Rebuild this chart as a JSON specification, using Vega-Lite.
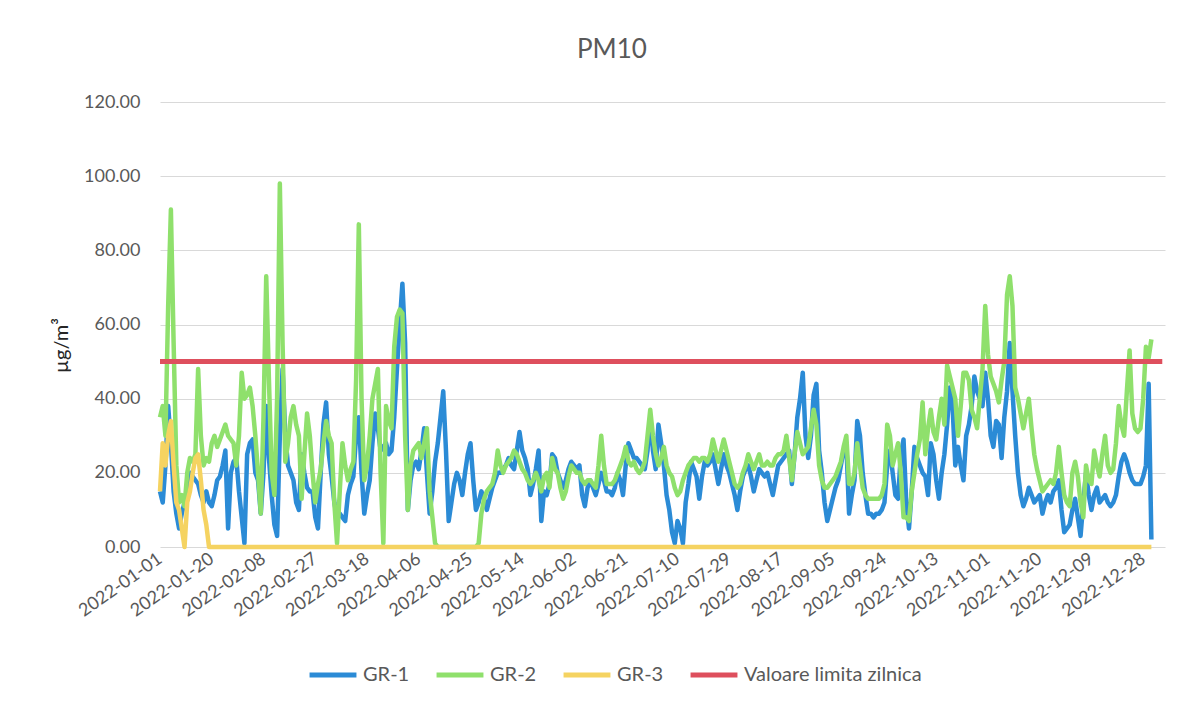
{
"$schema":"https://vega.github.io/schema/vega-lite/v6.json",
"width":1005,"height":445,
"autosize":{"type":"none"},
"padding":{"left":160,"top":102,"right":24,"bottom":156},
"background":"white",
"title":{"text":"PM10","fontSize":26,"font":"Lato","fontWeight":"normal","color":"#595959","anchor":"middle","frame":"bounds","offset":30},
"config":{"view":{"stroke":null},"font":"Lato"},
"datasets":{
"lim":[{"d":"2022-01-01","s":"Valoare limita zilnica","v":50},{"d":"2023-01-04","s":"Valoare limita zilnica","v":50}],
"pm":[
{"d":"2022-01-01","GR-1":15,"GR-2":35,"GR-3":15},
{"d":"2022-01-02","GR-1":12,"GR-2":38,"GR-3":28},
{"d":"2022-01-03","GR-1":22,"GR-2":30,"GR-3":22},
{"d":"2022-01-04","GR-1":38,"GR-2":65,"GR-3":30},
{"d":"2022-01-05","GR-1":28,"GR-2":91,"GR-3":34},
{"d":"2022-01-06","GR-1":15,"GR-2":55,"GR-3":22},
{"d":"2022-01-07","GR-1":9,"GR-2":22,"GR-3":12},
{"d":"2022-01-08","GR-1":5,"GR-2":12,"GR-3":10},
{"d":"2022-01-09","GR-1":9,"GR-2":14,"GR-3":5},
{"d":"2022-01-10","GR-1":12,"GR-2":11,"GR-3":0},
{"d":"2022-01-11","GR-1":16,"GR-2":20,"GR-3":12},
{"d":"2022-01-12","GR-1":20,"GR-2":24,"GR-3":15},
{"d":"2022-01-13","GR-1":19,"GR-2":23,"GR-3":20},
{"d":"2022-01-14","GR-1":18,"GR-2":25,"GR-3":24},
{"d":"2022-01-15","GR-1":17,"GR-2":48,"GR-3":25},
{"d":"2022-01-16","GR-1":14,"GR-2":30,"GR-3":18},
{"d":"2022-01-17","GR-1":12,"GR-2":22,"GR-3":10},
{"d":"2022-01-18","GR-1":15,"GR-2":24,"GR-3":6},
{"d":"2022-01-19","GR-1":12,"GR-2":23,"GR-3":0},
{"d":"2022-01-20","GR-1":11,"GR-2":28,"GR-3":0},
{"d":"2022-01-21","GR-1":14,"GR-2":30,"GR-3":0},
{"d":"2022-01-22","GR-1":18,"GR-2":27,"GR-3":0},
{"d":"2022-01-23","GR-1":19,"GR-2":29,"GR-3":0},
{"d":"2022-01-24","GR-1":22,"GR-2":31,"GR-3":0},
{"d":"2022-01-25","GR-1":26,"GR-2":33,"GR-3":0},
{"d":"2022-01-26","GR-1":5,"GR-2":30,"GR-3":0},
{"d":"2022-01-27","GR-1":20,"GR-2":29,"GR-3":0},
{"d":"2022-01-28","GR-1":23,"GR-2":28,"GR-3":0},
{"d":"2022-01-29","GR-1":24,"GR-2":22,"GR-3":0},
{"d":"2022-01-30","GR-1":15,"GR-2":30,"GR-3":0},
{"d":"2022-01-31","GR-1":8,"GR-2":47,"GR-3":0},
{"d":"2022-02-01","GR-1":1,"GR-2":40,"GR-3":0},
{"d":"2022-02-02","GR-1":25,"GR-2":41,"GR-3":0},
{"d":"2022-02-03","GR-1":28,"GR-2":43,"GR-3":0},
{"d":"2022-02-04","GR-1":29,"GR-2":38,"GR-3":0},
{"d":"2022-02-05","GR-1":20,"GR-2":30,"GR-3":0},
{"d":"2022-02-06","GR-1":18,"GR-2":20,"GR-3":0},
{"d":"2022-02-07","GR-1":9,"GR-2":9,"GR-3":0},
{"d":"2022-02-08","GR-1":20,"GR-2":35,"GR-3":0},
{"d":"2022-02-09","GR-1":38,"GR-2":73,"GR-3":0},
{"d":"2022-02-10","GR-1":24,"GR-2":45,"GR-3":0},
{"d":"2022-02-11","GR-1":14,"GR-2":20,"GR-3":0},
{"d":"2022-02-12","GR-1":6,"GR-2":14,"GR-3":0},
{"d":"2022-02-13","GR-1":3,"GR-2":40,"GR-3":0},
{"d":"2022-02-14","GR-1":30,"GR-2":98,"GR-3":0},
{"d":"2022-02-15","GR-1":48,"GR-2":55,"GR-3":0},
{"d":"2022-02-16","GR-1":30,"GR-2":23,"GR-3":0},
{"d":"2022-02-17","GR-1":22,"GR-2":28,"GR-3":0},
{"d":"2022-02-18","GR-1":20,"GR-2":35,"GR-3":0},
{"d":"2022-02-19","GR-1":18,"GR-2":38,"GR-3":0},
{"d":"2022-02-20","GR-1":12,"GR-2":33,"GR-3":0},
{"d":"2022-02-21","GR-1":10,"GR-2":30,"GR-3":0},
{"d":"2022-02-22","GR-1":25,"GR-2":13,"GR-3":0},
{"d":"2022-02-23","GR-1":20,"GR-2":25,"GR-3":0},
{"d":"2022-02-24","GR-1":16,"GR-2":36,"GR-3":0},
{"d":"2022-02-25","GR-1":15,"GR-2":30,"GR-3":0},
{"d":"2022-02-26","GR-1":15,"GR-2":20,"GR-3":0},
{"d":"2022-02-27","GR-1":8,"GR-2":12,"GR-3":0},
{"d":"2022-02-28","GR-1":5,"GR-2":17,"GR-3":0},
{"d":"2022-03-01","GR-1":20,"GR-2":21,"GR-3":0},
{"d":"2022-03-02","GR-1":33,"GR-2":28,"GR-3":0},
{"d":"2022-03-03","GR-1":39,"GR-2":34,"GR-3":0},
{"d":"2022-03-04","GR-1":25,"GR-2":30,"GR-3":0},
{"d":"2022-03-05","GR-1":19,"GR-2":28,"GR-3":0},
{"d":"2022-03-06","GR-1":12,"GR-2":12,"GR-3":0},
{"d":"2022-03-07","GR-1":8,"GR-2":1,"GR-3":0},
{"d":"2022-03-08","GR-1":9,"GR-2":15,"GR-3":0},
{"d":"2022-03-09","GR-1":8,"GR-2":28,"GR-3":0},
{"d":"2022-03-10","GR-1":7,"GR-2":22,"GR-3":0},
{"d":"2022-03-11","GR-1":14,"GR-2":18,"GR-3":0},
{"d":"2022-03-12","GR-1":17,"GR-2":21,"GR-3":0},
{"d":"2022-03-13","GR-1":19,"GR-2":23,"GR-3":0},
{"d":"2022-03-14","GR-1":30,"GR-2":45,"GR-3":0},
{"d":"2022-03-15","GR-1":35,"GR-2":87,"GR-3":0},
{"d":"2022-03-16","GR-1":20,"GR-2":40,"GR-3":0},
{"d":"2022-03-17","GR-1":9,"GR-2":18,"GR-3":0},
{"d":"2022-03-18","GR-1":14,"GR-2":22,"GR-3":0},
{"d":"2022-03-19","GR-1":18,"GR-2":30,"GR-3":0},
{"d":"2022-03-20","GR-1":28,"GR-2":40,"GR-3":0},
{"d":"2022-03-21","GR-1":36,"GR-2":44,"GR-3":0},
{"d":"2022-03-22","GR-1":32,"GR-2":48,"GR-3":0},
{"d":"2022-03-23","GR-1":26,"GR-2":20,"GR-3":0},
{"d":"2022-03-24","GR-1":27,"GR-2":1,"GR-3":0},
{"d":"2022-03-25","GR-1":28,"GR-2":38,"GR-3":0},
{"d":"2022-03-26","GR-1":25,"GR-2":34,"GR-3":0},
{"d":"2022-03-27","GR-1":26,"GR-2":32,"GR-3":0},
{"d":"2022-03-28","GR-1":35,"GR-2":54,"GR-3":0},
{"d":"2022-03-29","GR-1":48,"GR-2":62,"GR-3":0},
{"d":"2022-03-30","GR-1":60,"GR-2":64,"GR-3":0},
{"d":"2022-03-31","GR-1":71,"GR-2":63,"GR-3":0},
{"d":"2022-04-01","GR-1":55,"GR-2":30,"GR-3":0},
{"d":"2022-04-02","GR-1":10,"GR-2":10,"GR-3":0},
{"d":"2022-04-03","GR-1":18,"GR-2":22,"GR-3":0},
{"d":"2022-04-04","GR-1":22,"GR-2":26,"GR-3":0},
{"d":"2022-04-05","GR-1":23,"GR-2":27,"GR-3":0},
{"d":"2022-04-06","GR-1":21,"GR-2":28,"GR-3":0},
{"d":"2022-04-07","GR-1":26,"GR-2":24,"GR-3":0},
{"d":"2022-04-08","GR-1":32,"GR-2":28,"GR-3":0},
{"d":"2022-04-09","GR-1":20,"GR-2":32,"GR-3":0},
{"d":"2022-04-10","GR-1":9,"GR-2":15,"GR-3":0},
{"d":"2022-04-11","GR-1":15,"GR-2":8,"GR-3":0},
{"d":"2022-04-12","GR-1":23,"GR-2":1,"GR-3":0},
{"d":"2022-04-13","GR-1":28,"GR-2":0,"GR-3":0},
{"d":"2022-04-14","GR-1":35,"GR-2":0,"GR-3":0},
{"d":"2022-04-15","GR-1":42,"GR-2":0,"GR-3":0},
{"d":"2022-04-16","GR-1":26,"GR-2":0,"GR-3":0},
{"d":"2022-04-17","GR-1":7,"GR-2":0,"GR-3":0},
{"d":"2022-04-18","GR-1":12,"GR-2":0,"GR-3":0},
{"d":"2022-04-19","GR-1":17,"GR-2":0,"GR-3":0},
{"d":"2022-04-20","GR-1":20,"GR-2":0,"GR-3":0},
{"d":"2022-04-21","GR-1":18,"GR-2":0,"GR-3":0},
{"d":"2022-04-22","GR-1":14,"GR-2":0,"GR-3":0},
{"d":"2022-04-23","GR-1":20,"GR-2":0,"GR-3":0},
{"d":"2022-04-24","GR-1":25,"GR-2":0,"GR-3":0},
{"d":"2022-04-25","GR-1":28,"GR-2":0,"GR-3":0},
{"d":"2022-04-26","GR-1":18,"GR-2":0,"GR-3":0},
{"d":"2022-04-27","GR-1":10,"GR-2":0,"GR-3":0},
{"d":"2022-04-28","GR-1":12,"GR-2":1,"GR-3":0},
{"d":"2022-04-29","GR-1":15,"GR-2":9,"GR-3":0},
{"d":"2022-04-30","GR-1":13,"GR-2":13,"GR-3":0},
{"d":"2022-05-01","GR-1":10,"GR-2":15,"GR-3":0},
{"d":"2022-05-02","GR-1":13,"GR-2":16,"GR-3":0},
{"d":"2022-05-03","GR-1":16,"GR-2":17,"GR-3":0},
{"d":"2022-05-04","GR-1":18,"GR-2":20,"GR-3":0},
{"d":"2022-05-05","GR-1":20,"GR-2":26,"GR-3":0},
{"d":"2022-05-06","GR-1":20,"GR-2":22,"GR-3":0},
{"d":"2022-05-07","GR-1":21,"GR-2":20,"GR-3":0},
{"d":"2022-05-08","GR-1":22,"GR-2":22,"GR-3":0},
{"d":"2022-05-09","GR-1":24,"GR-2":23,"GR-3":0},
{"d":"2022-05-10","GR-1":22,"GR-2":24,"GR-3":0},
{"d":"2022-05-11","GR-1":21,"GR-2":26,"GR-3":0},
{"d":"2022-05-12","GR-1":26,"GR-2":25,"GR-3":0},
{"d":"2022-05-13","GR-1":31,"GR-2":23,"GR-3":0},
{"d":"2022-05-14","GR-1":26,"GR-2":21,"GR-3":0},
{"d":"2022-05-15","GR-1":24,"GR-2":20,"GR-3":0},
{"d":"2022-05-16","GR-1":21,"GR-2":18,"GR-3":0},
{"d":"2022-05-17","GR-1":14,"GR-2":17,"GR-3":0},
{"d":"2022-05-18","GR-1":17,"GR-2":18,"GR-3":0},
{"d":"2022-05-19","GR-1":21,"GR-2":20,"GR-3":0},
{"d":"2022-05-20","GR-1":26,"GR-2":18,"GR-3":0},
{"d":"2022-05-21","GR-1":7,"GR-2":15,"GR-3":0},
{"d":"2022-05-22","GR-1":15,"GR-2":19,"GR-3":0},
{"d":"2022-05-23","GR-1":14,"GR-2":20,"GR-3":0},
{"d":"2022-05-24","GR-1":17,"GR-2":16,"GR-3":0},
{"d":"2022-05-25","GR-1":25,"GR-2":24,"GR-3":0},
{"d":"2022-05-26","GR-1":24,"GR-2":21,"GR-3":0},
{"d":"2022-05-27","GR-1":20,"GR-2":20,"GR-3":0},
{"d":"2022-05-28","GR-1":18,"GR-2":16,"GR-3":0},
{"d":"2022-05-29","GR-1":16,"GR-2":13,"GR-3":0},
{"d":"2022-05-30","GR-1":18,"GR-2":15,"GR-3":0},
{"d":"2022-05-31","GR-1":21,"GR-2":19,"GR-3":0},
{"d":"2022-06-01","GR-1":23,"GR-2":22,"GR-3":0},
{"d":"2022-06-02","GR-1":22,"GR-2":21,"GR-3":0},
{"d":"2022-06-03","GR-1":21,"GR-2":20,"GR-3":0},
{"d":"2022-06-04","GR-1":22,"GR-2":20,"GR-3":0},
{"d":"2022-06-05","GR-1":14,"GR-2":18,"GR-3":0},
{"d":"2022-06-06","GR-1":11,"GR-2":17,"GR-3":0},
{"d":"2022-06-07","GR-1":16,"GR-2":18,"GR-3":0},
{"d":"2022-06-08","GR-1":18,"GR-2":18,"GR-3":0},
{"d":"2022-06-09","GR-1":16,"GR-2":17,"GR-3":0},
{"d":"2022-06-10","GR-1":14,"GR-2":16,"GR-3":0},
{"d":"2022-06-11","GR-1":17,"GR-2":22,"GR-3":0},
{"d":"2022-06-12","GR-1":20,"GR-2":30,"GR-3":0},
{"d":"2022-06-13","GR-1":18,"GR-2":22,"GR-3":0},
{"d":"2022-06-14","GR-1":15,"GR-2":17,"GR-3":0},
{"d":"2022-06-15","GR-1":15,"GR-2":17,"GR-3":0},
{"d":"2022-06-16","GR-1":14,"GR-2":17,"GR-3":0},
{"d":"2022-06-17","GR-1":16,"GR-2":18,"GR-3":0},
{"d":"2022-06-18","GR-1":20,"GR-2":20,"GR-3":0},
{"d":"2022-06-19","GR-1":18,"GR-2":22,"GR-3":0},
{"d":"2022-06-20","GR-1":14,"GR-2":24,"GR-3":0},
{"d":"2022-06-21","GR-1":22,"GR-2":27,"GR-3":0},
{"d":"2022-06-22","GR-1":28,"GR-2":23,"GR-3":0},
{"d":"2022-06-23","GR-1":26,"GR-2":22,"GR-3":0},
{"d":"2022-06-24","GR-1":24,"GR-2":23,"GR-3":0},
{"d":"2022-06-25","GR-1":24,"GR-2":21,"GR-3":0},
{"d":"2022-06-26","GR-1":23,"GR-2":20,"GR-3":0},
{"d":"2022-06-27","GR-1":22,"GR-2":21,"GR-3":0},
{"d":"2022-06-28","GR-1":21,"GR-2":23,"GR-3":0},
{"d":"2022-06-29","GR-1":26,"GR-2":30,"GR-3":0},
{"d":"2022-06-30","GR-1":35,"GR-2":37,"GR-3":0},
{"d":"2022-07-01","GR-1":26,"GR-2":30,"GR-3":0},
{"d":"2022-07-02","GR-1":21,"GR-2":25,"GR-3":0},
{"d":"2022-07-03","GR-1":33,"GR-2":22,"GR-3":0},
{"d":"2022-07-04","GR-1":28,"GR-2":24,"GR-3":0},
{"d":"2022-07-05","GR-1":22,"GR-2":27,"GR-3":0},
{"d":"2022-07-06","GR-1":14,"GR-2":22,"GR-3":0},
{"d":"2022-07-07","GR-1":10,"GR-2":20,"GR-3":0},
{"d":"2022-07-08","GR-1":4,"GR-2":19,"GR-3":0},
{"d":"2022-07-09","GR-1":1,"GR-2":16,"GR-3":0},
{"d":"2022-07-10","GR-1":7,"GR-2":14,"GR-3":0},
{"d":"2022-07-11","GR-1":5,"GR-2":15,"GR-3":0},
{"d":"2022-07-12","GR-1":1,"GR-2":18,"GR-3":0},
{"d":"2022-07-13","GR-1":12,"GR-2":20,"GR-3":0},
{"d":"2022-07-14","GR-1":17,"GR-2":22,"GR-3":0},
{"d":"2022-07-15","GR-1":23,"GR-2":23,"GR-3":0},
{"d":"2022-07-16","GR-1":21,"GR-2":24,"GR-3":0},
{"d":"2022-07-17","GR-1":19,"GR-2":24,"GR-3":0},
{"d":"2022-07-18","GR-1":13,"GR-2":23,"GR-3":0},
{"d":"2022-07-19","GR-1":19,"GR-2":24,"GR-3":0},
{"d":"2022-07-20","GR-1":23,"GR-2":24,"GR-3":0},
{"d":"2022-07-21","GR-1":22,"GR-2":23,"GR-3":0},
{"d":"2022-07-22","GR-1":23,"GR-2":25,"GR-3":0},
{"d":"2022-07-23","GR-1":25,"GR-2":29,"GR-3":0},
{"d":"2022-07-24","GR-1":21,"GR-2":26,"GR-3":0},
{"d":"2022-07-25","GR-1":17,"GR-2":23,"GR-3":0},
{"d":"2022-07-26","GR-1":21,"GR-2":26,"GR-3":0},
{"d":"2022-07-27","GR-1":25,"GR-2":29,"GR-3":0},
{"d":"2022-07-28","GR-1":22,"GR-2":26,"GR-3":0},
{"d":"2022-07-29","GR-1":20,"GR-2":23,"GR-3":0},
{"d":"2022-07-30","GR-1":17,"GR-2":20,"GR-3":0},
{"d":"2022-07-31","GR-1":14,"GR-2":17,"GR-3":0},
{"d":"2022-08-01","GR-1":10,"GR-2":16,"GR-3":0},
{"d":"2022-08-02","GR-1":15,"GR-2":17,"GR-3":0},
{"d":"2022-08-03","GR-1":19,"GR-2":20,"GR-3":0},
{"d":"2022-08-04","GR-1":21,"GR-2":22,"GR-3":0},
{"d":"2022-08-05","GR-1":22,"GR-2":25,"GR-3":0},
{"d":"2022-08-06","GR-1":19,"GR-2":23,"GR-3":0},
{"d":"2022-08-07","GR-1":15,"GR-2":21,"GR-3":0},
{"d":"2022-08-08","GR-1":18,"GR-2":23,"GR-3":0},
{"d":"2022-08-09","GR-1":21,"GR-2":25,"GR-3":0},
{"d":"2022-08-10","GR-1":20,"GR-2":22,"GR-3":0},
{"d":"2022-08-11","GR-1":19,"GR-2":22,"GR-3":0},
{"d":"2022-08-12","GR-1":20,"GR-2":23,"GR-3":0},
{"d":"2022-08-13","GR-1":17,"GR-2":22,"GR-3":0},
{"d":"2022-08-14","GR-1":14,"GR-2":22,"GR-3":0},
{"d":"2022-08-15","GR-1":18,"GR-2":24,"GR-3":0},
{"d":"2022-08-16","GR-1":22,"GR-2":25,"GR-3":0},
{"d":"2022-08-17","GR-1":23,"GR-2":25,"GR-3":0},
{"d":"2022-08-18","GR-1":24,"GR-2":26,"GR-3":0},
{"d":"2022-08-19","GR-1":25,"GR-2":30,"GR-3":0},
{"d":"2022-08-20","GR-1":26,"GR-2":24,"GR-3":0},
{"d":"2022-08-21","GR-1":17,"GR-2":18,"GR-3":0},
{"d":"2022-08-22","GR-1":25,"GR-2":25,"GR-3":0},
{"d":"2022-08-23","GR-1":35,"GR-2":31,"GR-3":0},
{"d":"2022-08-24","GR-1":40,"GR-2":28,"GR-3":0},
{"d":"2022-08-25","GR-1":47,"GR-2":25,"GR-3":0},
{"d":"2022-08-26","GR-1":30,"GR-2":26,"GR-3":0},
{"d":"2022-08-27","GR-1":24,"GR-2":27,"GR-3":0},
{"d":"2022-08-28","GR-1":30,"GR-2":32,"GR-3":0},
{"d":"2022-08-29","GR-1":41,"GR-2":37,"GR-3":0},
{"d":"2022-08-30","GR-1":44,"GR-2":33,"GR-3":0},
{"d":"2022-08-31","GR-1":26,"GR-2":22,"GR-3":0},
{"d":"2022-09-01","GR-1":20,"GR-2":18,"GR-3":0},
{"d":"2022-09-02","GR-1":12,"GR-2":16,"GR-3":0},
{"d":"2022-09-03","GR-1":7,"GR-2":16,"GR-3":0},
{"d":"2022-09-04","GR-1":10,"GR-2":17,"GR-3":0},
{"d":"2022-09-05","GR-1":13,"GR-2":18,"GR-3":0},
{"d":"2022-09-06","GR-1":16,"GR-2":19,"GR-3":0},
{"d":"2022-09-07","GR-1":18,"GR-2":21,"GR-3":0},
{"d":"2022-09-08","GR-1":22,"GR-2":23,"GR-3":0},
{"d":"2022-09-09","GR-1":26,"GR-2":27,"GR-3":0},
{"d":"2022-09-10","GR-1":28,"GR-2":30,"GR-3":0},
{"d":"2022-09-11","GR-1":9,"GR-2":17,"GR-3":0},
{"d":"2022-09-12","GR-1":14,"GR-2":17,"GR-3":0},
{"d":"2022-09-13","GR-1":18,"GR-2":20,"GR-3":0},
{"d":"2022-09-14","GR-1":34,"GR-2":28,"GR-3":0},
{"d":"2022-09-15","GR-1":30,"GR-2":22,"GR-3":0},
{"d":"2022-09-16","GR-1":20,"GR-2":16,"GR-3":0},
{"d":"2022-09-17","GR-1":14,"GR-2":14,"GR-3":0},
{"d":"2022-09-18","GR-1":9,"GR-2":13,"GR-3":0},
{"d":"2022-09-19","GR-1":9,"GR-2":13,"GR-3":0},
{"d":"2022-09-20","GR-1":8,"GR-2":13,"GR-3":0},
{"d":"2022-09-21","GR-1":9,"GR-2":13,"GR-3":0},
{"d":"2022-09-22","GR-1":9,"GR-2":13,"GR-3":0},
{"d":"2022-09-23","GR-1":10,"GR-2":14,"GR-3":0},
{"d":"2022-09-24","GR-1":12,"GR-2":17,"GR-3":0},
{"d":"2022-09-25","GR-1":22,"GR-2":33,"GR-3":0},
{"d":"2022-09-26","GR-1":26,"GR-2":30,"GR-3":0},
{"d":"2022-09-27","GR-1":20,"GR-2":22,"GR-3":0},
{"d":"2022-09-28","GR-1":14,"GR-2":25,"GR-3":0},
{"d":"2022-09-29","GR-1":13,"GR-2":28,"GR-3":0},
{"d":"2022-09-30","GR-1":25,"GR-2":20,"GR-3":0},
{"d":"2022-10-01","GR-1":29,"GR-2":8,"GR-3":0},
{"d":"2022-10-02","GR-1":12,"GR-2":8,"GR-3":0},
{"d":"2022-10-03","GR-1":5,"GR-2":7,"GR-3":0},
{"d":"2022-10-04","GR-1":15,"GR-2":15,"GR-3":0},
{"d":"2022-10-05","GR-1":27,"GR-2":20,"GR-3":0},
{"d":"2022-10-06","GR-1":24,"GR-2":25,"GR-3":0},
{"d":"2022-10-07","GR-1":22,"GR-2":29,"GR-3":0},
{"d":"2022-10-08","GR-1":20,"GR-2":39,"GR-3":0},
{"d":"2022-10-09","GR-1":19,"GR-2":25,"GR-3":0},
{"d":"2022-10-10","GR-1":14,"GR-2":32,"GR-3":0},
{"d":"2022-10-11","GR-1":28,"GR-2":37,"GR-3":0},
{"d":"2022-10-12","GR-1":25,"GR-2":31,"GR-3":0},
{"d":"2022-10-13","GR-1":18,"GR-2":29,"GR-3":0},
{"d":"2022-10-14","GR-1":13,"GR-2":35,"GR-3":0},
{"d":"2022-10-15","GR-1":20,"GR-2":40,"GR-3":0},
{"d":"2022-10-16","GR-1":25,"GR-2":33,"GR-3":0},
{"d":"2022-10-17","GR-1":33,"GR-2":49,"GR-3":0},
{"d":"2022-10-18","GR-1":43,"GR-2":46,"GR-3":0},
{"d":"2022-10-19","GR-1":38,"GR-2":43,"GR-3":0},
{"d":"2022-10-20","GR-1":22,"GR-2":40,"GR-3":0},
{"d":"2022-10-21","GR-1":27,"GR-2":30,"GR-3":0},
{"d":"2022-10-22","GR-1":22,"GR-2":38,"GR-3":0},
{"d":"2022-10-23","GR-1":18,"GR-2":47,"GR-3":0},
{"d":"2022-10-24","GR-1":30,"GR-2":47,"GR-3":0},
{"d":"2022-10-25","GR-1":33,"GR-2":45,"GR-3":0},
{"d":"2022-10-26","GR-1":38,"GR-2":37,"GR-3":0},
{"d":"2022-10-27","GR-1":46,"GR-2":35,"GR-3":0},
{"d":"2022-10-28","GR-1":42,"GR-2":32,"GR-3":0},
{"d":"2022-10-29","GR-1":40,"GR-2":40,"GR-3":0},
{"d":"2022-10-30","GR-1":38,"GR-2":48,"GR-3":0},
{"d":"2022-10-31","GR-1":47,"GR-2":65,"GR-3":0},
{"d":"2022-11-01","GR-1":40,"GR-2":52,"GR-3":0},
{"d":"2022-11-02","GR-1":30,"GR-2":46,"GR-3":0},
{"d":"2022-11-03","GR-1":27,"GR-2":44,"GR-3":0},
{"d":"2022-11-04","GR-1":34,"GR-2":42,"GR-3":0},
{"d":"2022-11-05","GR-1":33,"GR-2":39,"GR-3":0},
{"d":"2022-11-06","GR-1":24,"GR-2":45,"GR-3":0},
{"d":"2022-11-07","GR-1":35,"GR-2":50,"GR-3":0},
{"d":"2022-11-08","GR-1":42,"GR-2":68,"GR-3":0},
{"d":"2022-11-09","GR-1":55,"GR-2":73,"GR-3":0},
{"d":"2022-11-10","GR-1":42,"GR-2":65,"GR-3":0},
{"d":"2022-11-11","GR-1":30,"GR-2":43,"GR-3":0},
{"d":"2022-11-12","GR-1":20,"GR-2":40,"GR-3":0},
{"d":"2022-11-13","GR-1":14,"GR-2":36,"GR-3":0},
{"d":"2022-11-14","GR-1":11,"GR-2":32,"GR-3":0},
{"d":"2022-11-15","GR-1":13,"GR-2":36,"GR-3":0},
{"d":"2022-11-16","GR-1":16,"GR-2":40,"GR-3":0},
{"d":"2022-11-17","GR-1":14,"GR-2":32,"GR-3":0},
{"d":"2022-11-18","GR-1":12,"GR-2":25,"GR-3":0},
{"d":"2022-11-19","GR-1":13,"GR-2":21,"GR-3":0},
{"d":"2022-11-20","GR-1":14,"GR-2":18,"GR-3":0},
{"d":"2022-11-21","GR-1":9,"GR-2":15,"GR-3":0},
{"d":"2022-11-22","GR-1":12,"GR-2":16,"GR-3":0},
{"d":"2022-11-23","GR-1":14,"GR-2":17,"GR-3":0},
{"d":"2022-11-24","GR-1":12,"GR-2":18,"GR-3":0},
{"d":"2022-11-25","GR-1":15,"GR-2":17,"GR-3":0},
{"d":"2022-11-26","GR-1":16,"GR-2":20,"GR-3":0},
{"d":"2022-11-27","GR-1":18,"GR-2":27,"GR-3":0},
{"d":"2022-11-28","GR-1":10,"GR-2":20,"GR-3":0},
{"d":"2022-11-29","GR-1":4,"GR-2":14,"GR-3":0},
{"d":"2022-11-30","GR-1":5,"GR-2":12,"GR-3":0},
{"d":"2022-12-01","GR-1":6,"GR-2":11,"GR-3":0},
{"d":"2022-12-02","GR-1":10,"GR-2":20,"GR-3":0},
{"d":"2022-12-03","GR-1":13,"GR-2":23,"GR-3":0},
{"d":"2022-12-04","GR-1":8,"GR-2":19,"GR-3":0},
{"d":"2022-12-05","GR-1":3,"GR-2":12,"GR-3":0},
{"d":"2022-12-06","GR-1":12,"GR-2":8,"GR-3":0},
{"d":"2022-12-07","GR-1":20,"GR-2":22,"GR-3":0},
{"d":"2022-12-08","GR-1":14,"GR-2":18,"GR-3":0},
{"d":"2022-12-09","GR-1":10,"GR-2":17,"GR-3":0},
{"d":"2022-12-10","GR-1":14,"GR-2":26,"GR-3":0},
{"d":"2022-12-11","GR-1":16,"GR-2":22,"GR-3":0},
{"d":"2022-12-12","GR-1":12,"GR-2":19,"GR-3":0},
{"d":"2022-12-13","GR-1":13,"GR-2":25,"GR-3":0},
{"d":"2022-12-14","GR-1":14,"GR-2":30,"GR-3":0},
{"d":"2022-12-15","GR-1":12,"GR-2":22,"GR-3":0},
{"d":"2022-12-16","GR-1":11,"GR-2":20,"GR-3":0},
{"d":"2022-12-17","GR-1":12,"GR-2":21,"GR-3":0},
{"d":"2022-12-18","GR-1":14,"GR-2":28,"GR-3":0},
{"d":"2022-12-19","GR-1":19,"GR-2":38,"GR-3":0},
{"d":"2022-12-20","GR-1":23,"GR-2":33,"GR-3":0},
{"d":"2022-12-21","GR-1":25,"GR-2":30,"GR-3":0},
{"d":"2022-12-22","GR-1":23,"GR-2":42,"GR-3":0},
{"d":"2022-12-23","GR-1":20,"GR-2":53,"GR-3":0},
{"d":"2022-12-24","GR-1":18,"GR-2":36,"GR-3":0},
{"d":"2022-12-25","GR-1":17,"GR-2":32,"GR-3":0},
{"d":"2022-12-26","GR-1":17,"GR-2":31,"GR-3":0},
{"d":"2022-12-27","GR-1":17,"GR-2":32,"GR-3":0},
{"d":"2022-12-28","GR-1":19,"GR-2":40,"GR-3":0},
{"d":"2022-12-29","GR-1":22,"GR-2":54,"GR-3":0},
{"d":"2022-12-30","GR-1":44,"GR-2":51,"GR-3":0},
{"d":"2022-12-31","GR-1":2,"GR-2":56,"GR-3":0}
]},
"layer":[
{"data":{"name":"pm"},
 "transform":[{"fold":["GR-1","GR-2","GR-3"],"as":["s","v"]}],
 "mark":{"type":"line","strokeWidth":4.5,"strokeJoin":"round"},
 "encoding":{
  "x":{"field":"d","type":"temporal",
   "scale":{"type":"utc","domain":[{"year":2022,"month":1,"date":1,"utc":true},{"year":2023,"month":1,"date":5,"utc":true}]},
   "axis":{"title":null,"labelExpr":"utcFormat(datum.value, '%Y-%m-%d')","labelAngle":-35,"labelAlign":"right","labelBaseline":"middle","labelPadding":10,"labelFontSize":18,"labelColor":"#595959","labelOverlap":false,"labelBound":false,"labelFlush":false,"grid":false,"ticks":false,"domain":false,
    "values":[{"year":2022,"month":1,"date":1,"utc":true},{"year":2022,"month":1,"date":20,"utc":true},{"year":2022,"month":2,"date":8,"utc":true},{"year":2022,"month":2,"date":27,"utc":true},{"year":2022,"month":3,"date":18,"utc":true},{"year":2022,"month":4,"date":6,"utc":true},{"year":2022,"month":4,"date":25,"utc":true},{"year":2022,"month":5,"date":14,"utc":true},{"year":2022,"month":6,"date":2,"utc":true},{"year":2022,"month":6,"date":21,"utc":true},{"year":2022,"month":7,"date":10,"utc":true},{"year":2022,"month":7,"date":29,"utc":true},{"year":2022,"month":8,"date":17,"utc":true},{"year":2022,"month":9,"date":5,"utc":true},{"year":2022,"month":9,"date":24,"utc":true},{"year":2022,"month":10,"date":13,"utc":true},{"year":2022,"month":11,"date":1,"utc":true},{"year":2022,"month":11,"date":20,"utc":true},{"year":2022,"month":12,"date":9,"utc":true},{"year":2022,"month":12,"date":28,"utc":true}]}},
  "y":{"field":"v","type":"quantitative","scale":{"domain":[0,120],"nice":false},
   "axis":{"title":"µg/m³","titleFontSize":20,"titleColor":"#262626","titleFontWeight":"normal","titlePadding":12,"titleY":243,"format":".2f","values":[0,20,40,60,80,100,120],"labelFontSize":18,"labelColor":"#595959","labelPadding":20,"grid":true,"gridColor":"#d9d9d9","gridWidth":1,"ticks":false,"domain":false}},
  "color":{"field":"s","type":"nominal",
   "scale":{"domain":["GR-1","GR-2","GR-3","Valoare limita zilnica"],"range":["#2b8bd6","#8fe06c","#f5d361","#de4f5d"]},
   "legend":{"title":null,"orient":"none","direction":"horizontal","legendX":147,"legendY":547,"symbolType":"stroke","symbolSize":2200,"symbolStrokeWidth":5,"labelFontSize":20,"labelColor":"#595959","labelOffset":4,"labelLimit":0,"columnPadding":16,"padding":0}}
 }},
{"data":{"name":"lim"},
 "mark":{"type":"line","strokeWidth":5},
 "encoding":{
  "x":{"field":"d","type":"temporal"},
  "y":{"field":"v","type":"quantitative"},
  "color":{"field":"s","type":"nominal"}
 }}
]
}
